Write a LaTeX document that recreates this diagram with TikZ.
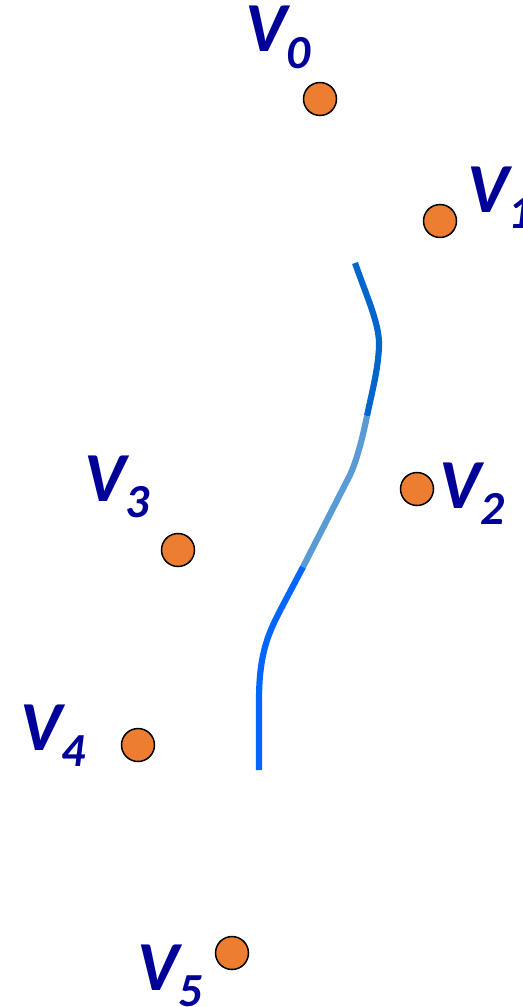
\documentclass[tikz,border=0pt]{standalone}
\usepackage{fontspec}
\setmainfont{Carlito}
\usepackage{tikz}

\definecolor{dotorange}{HTML}{ED7D31}
\definecolor{labelblue}{HTML}{000099}
\definecolor{pathdark}{HTML}{0066CC}
\definecolor{pathlight}{HTML}{5B9BD5}
\definecolor{pathbright}{HTML}{0066FF}

\newcommand{\vsub}[1]{\raisebox{-9.5pt}{\fontsize{27}{30}\selectfont #1}}

\tikzset{
    vdot/.style={circle, draw=black, line width=0.85pt, fill=dotorange,
        minimum size=0.66cm, inner sep=0pt},
    vlabel/.style={anchor=base west, inner sep=0pt, text=labelblue,
        font=\fontsize{40}{48}\selectfont\bfseries\itshape},
    pathseg/.style={line width=3.5pt}
}

\begin{document}
\begin{tikzpicture}[x=0.02cm, y=-0.02cm]
    \useasboundingbox (0,0) rectangle (523,1007);
    % Draw vertices
    \node[vdot] (v0) at (320,99) {};
    \node[vdot] (v1) at (440,221) {};
    \node[vdot] (v2) at (417,489) {};
    \node[vdot] (v3) at (178,550) {};
    \node[vdot] (v4) at (138,745) {};
    \node[vdot] (v5) at (232,953) {};
    % Draw vertex labels
    \node[vlabel] (l0) at (245,52) {V\vsub{0}};
    \node[vlabel] (l1) at (467,212) {V\vsub{1}};
    \node[vlabel] (l2) at (439,508) {V\vsub{2}};
    \node[vlabel] (l3) at (84,501) {V\vsub{3}};
    \node[vlabel] (l4) at (20,750) {V\vsub{4}};
    \node[vlabel] (l5) at (137,990) {V\vsub{5}};
    % Draw path
    \coordinate (p0) at (355,263);
    \coordinate (p1) at (367,416);
    \coordinate (p2) at (303,567);
    \coordinate (p3) at (259,770);
    \draw[pathseg, pathdark] (p0) .. controls (368,300) and (380,325) .. (379,347)
        .. controls (378,370) and (372,392) .. (p1);
    \draw[pathseg, pathlight] (p1) .. controls (363,436) and (357,460) .. (350,475) -- (p2);
    \draw[pathseg, pathbright] (p2) -- (283,605) .. controls (270,630) and (259,650) .. (259,700) -- (p3);
\end{tikzpicture}
\end{document}
